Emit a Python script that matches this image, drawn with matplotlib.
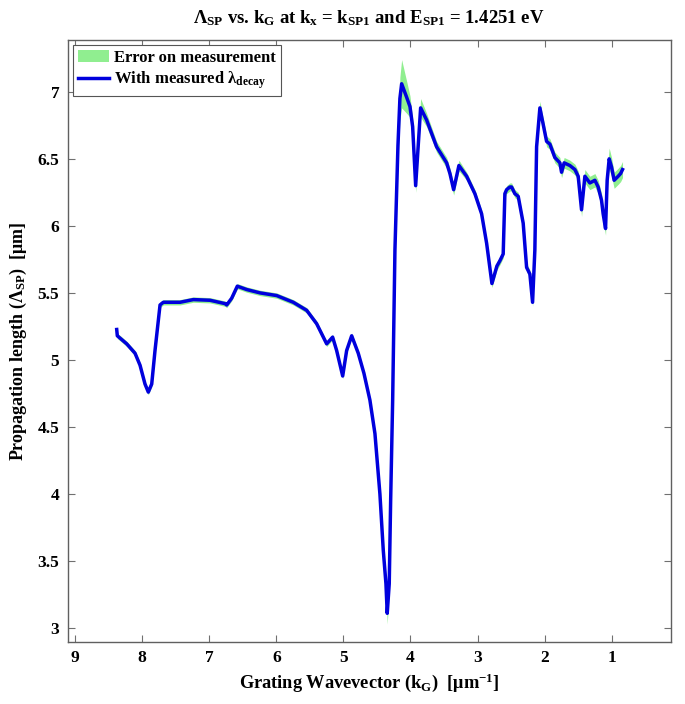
import matplotlib
matplotlib.use('Agg')
import matplotlib.pyplot as plt
import numpy as np

# Grating wavevector k_G [um^-1]
k_G = [8.379, 8.370, 8.230, 8.106, 8.031, 7.957, 7.908, 7.857, 7.808, 7.733,
       7.684, 7.435, 7.237, 6.988, 6.765, 6.739, 6.665, 6.581, 6.441, 6.243,
       5.994, 5.747, 5.547, 5.398, 5.249, 5.160, 5.100, 5.010, 4.951, 4.876,
       4.778, 4.693, 4.604, 4.529, 4.455, 4.405, 4.365, 4.346, 4.316, 4.295,
       4.265, 4.231, 4.186, 4.157, 4.131, 4.057, 4.007, 3.967, 3.922, 3.848,
       3.759, 3.610, 3.460, 3.411, 3.356, 3.277, 3.162, 3.039, 2.939, 2.864,
       2.785, 2.711, 2.666, 2.617, 2.592, 2.566, 2.517, 2.492, 2.443, 2.393,
       2.319, 2.268, 2.219, 2.179, 2.145, 2.119, 2.070, 1.970, 1.921, 1.847,
       1.772, 1.747, 1.708, 1.623, 1.548, 1.499, 1.449, 1.399, 1.325, 1.250,
       1.201, 1.151, 1.127, 1.091, 1.067, 1.037, 1.002, 0.963, 0.903, 0.867,
       0.838]

# Propagation length Lambda_SP [um]
L_sp = [5.227, 5.18, 5.12, 5.05, 4.96, 4.82, 4.76, 4.82, 5.07, 5.41,
        5.43, 5.43, 5.45, 5.445, 5.42, 5.41, 5.46, 5.55, 5.525, 5.50,
        5.48, 5.43, 5.37, 5.27, 5.12, 5.17, 5.07, 4.88, 5.07, 5.18,
        5.05, 4.90, 4.70, 4.45, 4.00, 3.58, 3.33, 3.11, 3.33, 3.95,
        4.70, 5.82, 6.60, 6.95, 7.06, 6.96, 6.89, 6.74, 6.30, 6.88,
        6.79, 6.59, 6.47, 6.39, 6.27, 6.45, 6.37, 6.24, 6.09, 5.87,
        5.57, 5.70, 5.74, 5.79, 6.24, 6.27, 6.29, 6.29, 6.24, 6.22,
        6.02, 5.69, 5.64, 5.43, 5.82, 6.59, 6.88, 6.63, 6.61, 6.51,
        6.47, 6.40, 6.47, 6.45, 6.42, 6.37, 6.12, 6.37, 6.32, 6.34,
        6.29, 6.19, 6.09, 5.98, 6.34, 6.50, 6.44, 6.34, 6.37, 6.39,
        6.42]

# Measurement error (half-width)
err = [0.02, 0.02, 0.02, 0.02, 0.02, 0.02, 0.02, 0.02, 0.02, 0.02,
       0.02, 0.02, 0.02, 0.02, 0.02, 0.02, 0.02, 0.02, 0.02, 0.02,
       0.02, 0.02, 0.02, 0.02, 0.02, 0.02, 0.02, 0.02, 0.02, 0.02,
       0.02, 0.02, 0.02, 0.03, 0.04, 0.05, 0.06, 0.08, 0.06, 0.05,
       0.05, 0.08, 0.12, 0.16, 0.18, 0.12, 0.08, 0.06, 0.05, 0.07,
       0.05, 0.04, 0.04, 0.04, 0.04, 0.04, 0.03, 0.03, 0.03, 0.03,
       0.03, 0.03, 0.03, 0.03, 0.03, 0.03, 0.03, 0.03, 0.03, 0.03,
       0.03, 0.03, 0.03, 0.03, 0.04, 0.05, 0.05, 0.04, 0.04, 0.04,
       0.04, 0.04, 0.04, 0.04, 0.04, 0.04, 0.05, 0.05, 0.05, 0.05,
       0.05, 0.05, 0.05, 0.05, 0.06, 0.08, 0.07, 0.06, 0.06, 0.06,
       0.06]

x_ticks = [9, 8, 7, 6, 5, 4, 3, 2, 1]
y_ticks = [3, 3.5, 4, 4.5, 5, 5.5, 6, 6.5, 7]

plt.rcParams['font.family'] = 'Liberation Serif'
plt.rcParams['font.weight'] = 'bold'
plt.rcParams['mathtext.fontset'] = 'custom'
plt.rcParams['mathtext.rm'] = 'Liberation Serif:bold'
plt.rcParams['mathtext.it'] = 'Liberation Serif:bold'
plt.rcParams['mathtext.bf'] = 'Liberation Serif:bold'
plt.rcParams['mathtext.default'] = 'bf'

x = np.array(k_G)
y = np.array(L_sp)
e = np.array(err)

fig = plt.figure(figsize=(6.85, 7.04), dpi=100)
ax = fig.add_axes([0.0988, 0.0881, 0.8803, 0.855])

ax.fill_between(x, y - e, y + e, color='#90EE90', lw=0, label='Error on measurement')
ax.plot(x, y, color='#0000DD', lw=2.5, label='With measured λ$_{decay}$')

ax.set_xlim(9.11, 0.12)
ax.set_ylim(2.896, 7.386)
ax.set_xticks(x_ticks)
ax.set_yticks(y_ticks)
ax.set_xticklabels([str(t) for t in x_ticks])
ax.set_yticklabels(['3', '3.5', '4', '4.5', '5', '5.5', '6', '6.5', '7'])
ax.tick_params(direction='in', top=True, right=True, length=5, width=0.8,
               color='#707070', labelsize=12.5, pad=6)
for s in ax.spines.values():
    s.set_color('#606060')
    s.set_linewidth(1.0)

ax.set_title('Λ$_{SP}$ vs. k$_{G}$ at k$_{x}$ = k$_{SP1}$ and E$_{SP1}$ = 1.4251 eV',
             fontsize=13.5, fontweight='bold', pad=12)
ax.set_xlabel('Grating Wavevector (k$_{G}$)  [μm$^{-1}$]', fontsize=13.2, fontweight='bold')
ax.set_ylabel('Propagation length (Λ$_{SP}$)  [μm]', fontsize=13, fontweight='bold', labelpad=6)

leg = ax.legend(loc='upper left', fontsize=12, fancybox=False, edgecolor='#555555',
                borderaxespad=0.3, handlelength=1.9, handletextpad=0.3,
                labelspacing=0.2, borderpad=0.3, framealpha=1)
leg.get_frame().set_linewidth(0.8)

fig.savefig('out.png', dpi=100)
